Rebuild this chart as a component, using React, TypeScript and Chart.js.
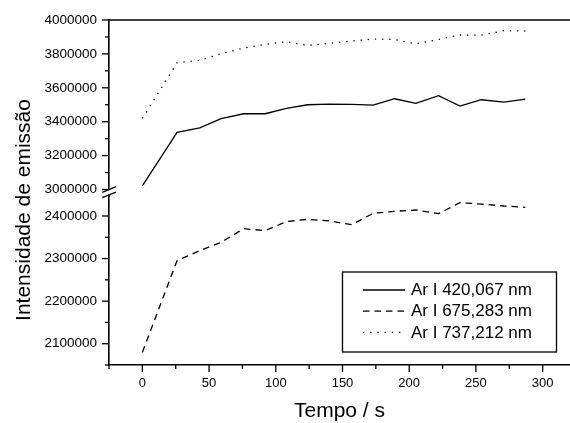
import { useEffect, useRef } from 'react';
import { Chart, registerables } from 'chart.js';

Chart.register(...registerables);

// ---- data ----
const times = [0, 26, 43, 59, 76, 92, 108, 124, 140, 157, 173, 189, 205, 222, 238, 254, 271, 287];
const ar420 = [3021700, 3336600, 3364200, 3418000, 3446900, 3447000, 3478300, 3500000, 3504000, 3502000, 3498000, 3535400, 3507900, 3553100, 3492100, 3529500, 3515700, 3533500];
const ar675 = [2079700, 2295100, 2318600, 2338100, 2370200, 2365500, 2386700, 2392200, 2388300, 2379600, 2406300, 2411000, 2414100, 2405500, 2431300, 2428000, 2423500, 2420400];
const ar737 = [3419300, 3748000, 3761800, 3801200, 3834600, 3856300, 3872000, 3850400, 3862200, 3876000, 3887800, 3885800, 3858300, 3885800, 3911400, 3911000, 3937000, 3935000];
const seriesLabels = ['Ar I 420,067 nm', 'Ar I 675,283 nm', 'Ar I 737,212 nm'];
const xTitle = 'Tempo / s';
const yTitle = 'Intensidade de emissão';

// tick positions (major ones carry labels)
const xTicks = [-25, 0, 25, 50, 75, 100, 125, 150, 175, 200, 225, 250, 275, 300];
const xMajor = [0, 50, 100, 150, 200, 250, 300];
const yTopTicks = [3000000, 3100000, 3200000, 3300000, 3400000, 3500000, 3600000, 3700000, 3800000, 3900000, 4000000];
const yTopMajor = [3000000, 3200000, 3400000, 3600000, 3800000, 4000000];
const yBottomTicks = [2050000, 2100000, 2150000, 2200000, 2250000, 2300000, 2350000, 2400000];
const yBottomMajor = [2100000, 2200000, 2300000, 2400000];

const FONT = '"Liberation Sans", Arial, sans-serif';
const DASH_SOLID: number[] = [];
const DASH_DASHED = [6.5, 5];
const DASH_DOTTED = [1.3, 5.9];

const toPts = (vals: number[]) => times.map((t, i) => ({ x: t, y: vals[i] }));
const setTicks = (vals: number[]) => (scale: any) => {
  scale.ticks = vals.map((v) => ({ value: v }));
};
const labelIf = (major: number[]) => (v: any) => (major.includes(Math.round(v)) ? String(Math.round(v)) : '');

const decor = {
  id: 'decor',
  afterDraw(chart: any) {
    const { ctx, chartArea } = chart;
    const xs = chart.scales.x;
    const yt = chart.scales.yTop;
    const yb = chart.scales.yBottom;
    const ax = chartArea.left;
    const line = (x1: number, y1: number, x2: number, y2: number) => {
      ctx.beginPath();
      ctx.moveTo(x1, y1);
      ctx.lineTo(x2, y2);
      ctx.stroke();
    };
    ctx.save();
    ctx.strokeStyle = '#000';
    ctx.setLineDash([]);
    // top frame line
    ctx.lineWidth = 1.6;
    line(ax, chartArea.top, chart.width, chartArea.top);

    // tick marks (major/minor), outward
    ctx.lineWidth = 1.3;
    const drawY = (scale: any, major: number[]) => {
      scale.ticks.forEach((t: any) => {
        const p = scale.getPixelForValue(t.value);
        const L = major.includes(t.value) ? 7 : 4;
        line(ax - L, p, ax, p);
      });
    };
    drawY(yt, yTopMajor);
    drawY(yb, yBottomMajor);
    xs.ticks.forEach((t: any) => {
      const p = xs.getPixelForValue(t.value);
      const L = xMajor.includes(t.value) ? 7 : 4;
      line(p, chartArea.bottom, p, chartArea.bottom + L);
    });

    // axis break symbol
    const cy = yt.getPixelForValue(3000000) + 2.8;
    ctx.fillStyle = '#fff';
    ctx.beginPath();
    ctx.moveTo(ax - 6.7, cy + 0.6);
    ctx.lineTo(ax + 7, cy - 5.0);
    ctx.lineTo(ax + 7, cy - 0.8);
    ctx.lineTo(ax - 6.7, cy + 4.8);
    ctx.closePath();
    ctx.fill();
    ctx.lineWidth = 1.3;
    line(ax - 6.7, cy, ax + 7, cy - 5.6);
    line(ax - 6.7, cy + 5.4, ax + 7, cy - 0.2);

    // y axis title
    ctx.fillStyle = '#000';
    ctx.font = `21px ${FONT}`;
    ctx.save();
    ctx.translate(30, 210);
    ctx.rotate(-Math.PI / 2);
    ctx.textAlign = 'center';
    ctx.textBaseline = 'alphabetic';
    ctx.fillText(yTitle, 0, 0);
    ctx.restore();

    // legend
    const bx = 342.5, by = 272, bw = 214, bh = 80;
    ctx.fillStyle = '#fff';
    ctx.fillRect(bx, by, bw, bh);
    ctx.lineWidth = 1.3;
    ctx.strokeRect(bx, by, bw, bh);
    const dashes = [DASH_SOLID, DASH_DASHED, DASH_DOTTED];
    ctx.font = `17px ${FONT}`;
    ctx.textAlign = 'left';
    ctx.textBaseline = 'middle';
    chart.data.datasets.forEach((ds: any, i: number) => {
      const ly = 290 + i * 21.2;
      ctx.setLineDash(dashes[i]);
      ctx.lineWidth = 1.3;
      line(363, ly, 405, ly);
      ctx.setLineDash([]);
      ctx.fillStyle = '#000';
      ctx.fillText(ds.label, 411, ly + 0.5);
    });
    ctx.restore();
  },
};

export default function App() {
  const ref = useRef<HTMLCanvasElement>(null);
  useEffect(() => {
    const canvas = ref.current;
    if (!canvas) return;
    const xTickFont = { family: FONT, size: 13 };
    const yTickFont = { family: FONT, size: 13.5, lineHeight: 1.1 };
    const common = {
      type: 'linear' as const,
      position: 'left' as const,
      stack: 'y',
      grid: { display: false, drawTicks: false },
      border: { display: true, color: '#000', width: 1.6 },
      afterFit: (s: any) => {
        s.width = 109;
      },
    };
    const chart = new Chart(canvas, {
      type: 'line',
      data: {
        datasets: [
          { label: seriesLabels[0], data: toPts(ar420), yAxisID: 'yTop', borderColor: '#000', borderWidth: 1.3, borderDash: DASH_SOLID, pointRadius: 0, tension: 0, fill: false },
          { label: seriesLabels[1], data: toPts(ar675), yAxisID: 'yBottom', borderColor: '#000', borderWidth: 1.3, borderDash: DASH_DASHED, pointRadius: 0, tension: 0, fill: false },
          { label: seriesLabels[2], data: toPts(ar737), yAxisID: 'yTop', borderColor: '#000', borderWidth: 1.3, borderDash: DASH_DOTTED, pointRadius: 0, tension: 0, fill: false },
        ],
      },
      options: {
        responsive: false,
        animation: false,
        devicePixelRatio: 1,
        layout: { padding: { top: 20, left: 0, right: 0, bottom: 0 } },
        plugins: { legend: { display: false }, tooltip: { enabled: false } },
        scales: {
          x: {
            type: 'linear',
            min: -25,
            max: 320.5,
            grid: { display: false, drawTicks: false },
            border: { display: true, color: '#000', width: 1.6 },
            afterBuildTicks: setTicks(xTicks),
            ticks: { autoSkip: false, maxRotation: 0, padding: 10.5, color: '#000', font: xTickFont, callback: labelIf(xMajor) },
            title: { display: true, text: xTitle, color: '#000', font: { family: FONT, size: 21, lineHeight: 1 }, padding: { top: 0, bottom: 1.5 } },
            afterFit: (s: any) => {
              s.height = 58;
            },
          },
          yBottom: {
            ...common,
            stackWeight: 168.6,
            min: 2050000,
            max: 2446000,
            afterBuildTicks: setTicks(yBottomTicks),
            ticks: { autoSkip: false, padding: 12, color: '#000', font: yTickFont, callback: labelIf(yBottomMajor) },
          },
          yTop: {
            ...common,
            stackWeight: 176.4,
            min: 2959300,
            max: 4000000,
            afterBuildTicks: setTicks(yTopTicks),
            ticks: { autoSkip: false, padding: 12, color: '#000', font: yTickFont, callback: labelIf(yTopMajor) },
          },
        },
      } as any,
      plugins: [decor],
    });
    return () => chart.destroy();
  }, []);
  return (
    <div style={{ position: 'fixed', left: 0, top: 0, width: 570, height: 423, background: '#fff' }}>
      <canvas ref={ref} width={570} height={423} style={{ display: 'block' }} />
    </div>
  );
}
